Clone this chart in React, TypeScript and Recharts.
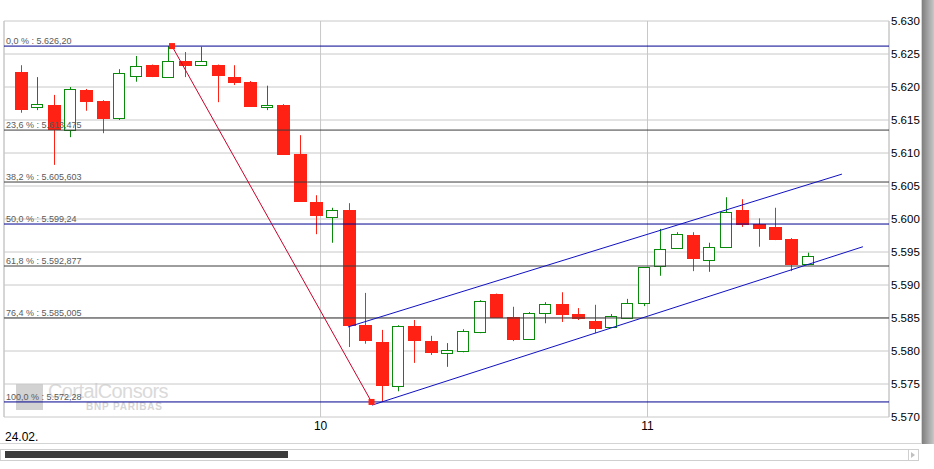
import {
  ComposedChart,
  Bar,
  XAxis,
  YAxis,
  CartesianGrid,
  ReferenceLine,
  ReferenceDot,
} from "recharts";

// one candle per slot
const opens = [
  5.6223, 5.617, 5.6173, 5.6135, 5.6195, 5.6179, 5.6153, 5.6217, 5.6233, 5.6215,
  5.6239, 5.6233, 5.6233, 5.6215, 5.6208, 5.617, 5.6173, 5.6098, 5.6026, 5.6003,
  5.6014, 5.5839, 5.5814, 5.5747, 5.5838, 5.5815, 5.5797, 5.58, 5.5829, 5.5886,
  5.5852, 5.5818, 5.5858, 5.5871, 5.5856, 5.5845, 5.5836, 5.5851, 5.5873, 5.5929,
  5.5956, 5.5976, 5.5939, 5.5958, 5.6014, 5.5992, 5.5988, 5.597, 5.5932,
];
const highs = [
  5.6233, 5.6215, 5.6188, 5.62, 5.6197, 5.618, 5.6227, 5.6247, 5.6234, 5.6262,
  5.6253, 5.6261, 5.6234, 5.6233, 5.6209, 5.6202, 5.6174, 5.6127, 5.6036, 5.6017,
  5.6024, 5.5888, 5.5832, 5.5839, 5.5847, 5.5823, 5.5812, 5.5833, 5.5877, 5.5887,
  5.5867, 5.5859, 5.5874, 5.5889, 5.5865, 5.587, 5.5856, 5.5879, 5.5927, 5.5985,
  5.598, 5.598, 5.5964, 5.6033, 5.603, 5.6001, 5.6017, 5.5971, 5.5949,
];
const lows = [
  5.6161, 5.6165, 5.6082, 5.6124, 5.6164, 5.613, 5.615, 5.6208, 5.6215, 5.6214,
  5.6215, 5.6232, 5.6177, 5.6203, 5.617, 5.6165, 5.6098, 5.6026, 5.5977, 5.5964,
  5.5806, 5.5811, 5.5723, 5.5739, 5.5782, 5.5794, 5.5776, 5.5798, 5.5827, 5.585,
  5.5815, 5.5818, 5.5842, 5.5844, 5.5847, 5.5827, 5.5836, 5.585, 5.5868, 5.5914,
  5.5956, 5.5921, 5.592, 5.5956, 5.5988, 5.5958, 5.5968, 5.5921, 5.593,
];
const closes = [
  5.6165, 5.6174, 5.6135, 5.6197, 5.6177, 5.6152, 5.6221, 5.6232, 5.6215, 5.6239,
  5.6232, 5.6239, 5.6217, 5.6206, 5.617, 5.6173, 5.6098, 5.6026, 5.6005, 5.6014,
  5.5839, 5.5814, 5.5747, 5.5838, 5.5815, 5.5797, 5.5802, 5.583, 5.5876, 5.585,
  5.5817, 5.5858, 5.5871, 5.5855, 5.5848, 5.5833, 5.5853, 5.5873, 5.5927, 5.5955,
  5.5977, 5.5939, 5.5958, 5.6011, 5.5992, 5.5985, 5.5968, 5.593, 5.5944,
];

const priceTicks = [5.57, 5.575, 5.58, 5.585, 5.59, 5.595, 5.6, 5.605, 5.61, 5.615, 5.62, 5.625, 5.63];
const dayTicks = [18.27, 38.21];
const dayLabels = ["10", "11"];

const fibLevels = [5.6262, 5.613475, 5.605603, 5.59924, 5.592877, 5.585005, 5.57228];
const fibLabels = [
  "0,0 % : 5.626,20",
  "23,6 % : 5.613,475",
  "38,2 % : 5.605,603",
  "50,0 % : 5.599,24",
  "61,8 % : 5.592,877",
  "76,4 % : 5.585,005",
  "100,0 % : 5.572,28",
];
const fibBlue = [true, false, false, true, false, false, true];

// trend line drawn from the high to the low
const swingLine = [
  { x: 9.21, y: 5.6262 },
  { x: 21.38, y: 5.57228 },
];
const channelTop = [
  { x: 19.94, y: 5.58364 },
  { x: 50.07, y: 5.6068 },
];
const channelBottom = [
  { x: 21.41, y: 5.5718 },
  { x: 51.35, y: 5.5958 },
];

const data = opens.map((o, i) => ({
  i,
  o,
  h: highs[i],
  l: lows[i],
  c: closes[i],
  range: [lows[i], highs[i]],
}));

const RED = "#ff2214";
const GREEN = "#0a8a0a";
const NAVY = "#000090";
const GRID = "#c8c8c8";

const Candle = (props: any) => {
  const { x, y, width, height, payload } = props;
  if (!payload || height == null) return null;
  const { o, h, l, c } = payload;
  const k = height / (h - l);
  const cx = Math.round(x + width / 2);
  const yo = y + (h - o) * k;
  const yc = y + (h - c) * k;
  const up = c >= o;
  const top = Math.min(yo, yc);
  const bh = Math.max(1, Math.abs(yo - yc));
  const col = up ? GREEN : RED;
  return (
    <g>
      <line x1={cx + 0.5} x2={cx + 0.5} y1={y} y2={y + height} stroke={col} strokeWidth={1} />
      {up ? (
        <rect x={cx - 5.5} y={Math.round(top) + 0.5} width={11} height={Math.max(1, Math.round(bh))} fill="#fff" stroke={GREEN} strokeWidth={1} />
      ) : (
        <rect x={cx - 6} y={Math.round(top)} width={13} height={Math.max(1, Math.round(bh))} fill={RED} />
      )}
    </g>
  );
};

const Square = (props: any) => (
  <rect x={props.cx - 3} y={props.cy - 3} width={6} height={6} fill={RED} />
);

export default function App() {
  return (
    <div style={{ position: "relative", width: 934, height: 469, fontFamily: "Arial, 'Liberation Sans', sans-serif", background: "#fff", overflow: "hidden" }}>
      <style>{"body{margin:0}"}</style>

      {/* watermark sits under the chart */}
      <div style={{ position: "absolute", left: 16, top: 384, width: 27, height: 26, background: "#d2d2d2" }} />
      <div style={{ position: "absolute", left: 48, top: 380, fontSize: 20, lineHeight: "22px", color: "#dadada", letterSpacing: -0.6 }}>
        CortalConsors
      </div>
      <div style={{ position: "absolute", left: 86, top: 401, fontSize: 10, lineHeight: "11px", fontWeight: "bold", color: "#d6d6d6", letterSpacing: 0.8 }}>
        BNP PARIBAS
      </div>

      <div style={{ position: "absolute", left: 0, top: 0 }}>
        <ComposedChart width={934} height={469} data={data} margin={{ top: 21, left: 4, right: 12, bottom: 32 }}>
          <CartesianGrid stroke={GRID} />
          <XAxis
            dataKey="i"
            type="number"
            domain={[-1.037, 52.94]}
            allowDataOverflow
            ticks={dayTicks}
            tickFormatter={(v: number) => dayLabels[dayTicks.indexOf(v)] ?? ""}
            axisLine={false}
            tickLine={false}
            tickSize={0}
            tickMargin={4}
            height={20}
            tick={{ fill: "#000", fontSize: 12 }}
          />
          <YAxis
            orientation="right"
            domain={[5.57, 5.63]}
            allowDataOverflow
            ticks={priceTicks}
            tickFormatter={(v: number) => v.toFixed(3)}
            axisLine={false}
            tickLine={false}
            tickSize={0}
            tickMargin={2}
            width={33}
            tick={{ fill: "#000", fontSize: 11.5 }}
          />
          <ReferenceLine x={-1.037} stroke={GRID} />
          <ReferenceLine x={52.94} stroke={GRID} />
          {fibLevels.map((v, k) => (
            <ReferenceLine
              key={k}
              y={v}
              stroke={fibBlue[k] ? NAVY : "#3c3c3c"}
              strokeWidth={1}
              label={{ value: fibLabels[k], position: "insideBottomLeft", offset: 2, fill: "#5a5a5a", fontSize: 9 }}
            />
          ))}
          <Bar dataKey="range" barSize={12} shape={Candle} isAnimationActive={false} />
          <ReferenceLine segment={swingLine} stroke="#c8002a" strokeWidth={1} />
          <ReferenceLine segment={channelTop} stroke="#1010c0" strokeWidth={1} />
          <ReferenceLine segment={channelBottom} stroke="#1010c0" strokeWidth={1} />
          <ReferenceDot x={swingLine[0].x} y={swingLine[0].y} shape={Square} />
          <ReferenceDot x={swingLine[1].x} y={swingLine[1].y} shape={Square} />
        </ComposedChart>
      </div>

      <div style={{ position: "absolute", left: 5, top: 430, fontSize: 12, color: "#000" }}>24.02.</div>

      {/* frame, scrollbar and side strip */}
      <div style={{ position: "absolute", left: 0, top: 443, width: 921, height: 1, background: "#d4d4d4" }} />
      <div style={{ position: "absolute", left: 921, top: 0, width: 1, height: 444, background: "#d4d4d4" }} />
      <div style={{ position: "absolute", left: 922, top: 0, width: 12, height: 444, background: "linear-gradient(to right, #7e7e7e, #c8c8c8)" }} />
      <div style={{ position: "absolute", left: 0, top: 449, width: 917, height: 10, border: "1px solid #cfcfcf", boxSizing: "content-box" }} />
      <div style={{ position: "absolute", left: 5, top: 451, width: 283, height: 7, background: "#3c3c3c" }} />
      <div style={{ position: "absolute", left: 908, top: 450, width: 9, height: 10, borderLeft: "1px solid #cfcfcf" }} />
      <div style={{ position: "absolute", left: 911, top: 452, width: 0, height: 0, borderTop: "3px solid transparent", borderBottom: "3px solid transparent", borderLeft: "4px solid #c0c0c0" }} />
    </div>
  );
}
